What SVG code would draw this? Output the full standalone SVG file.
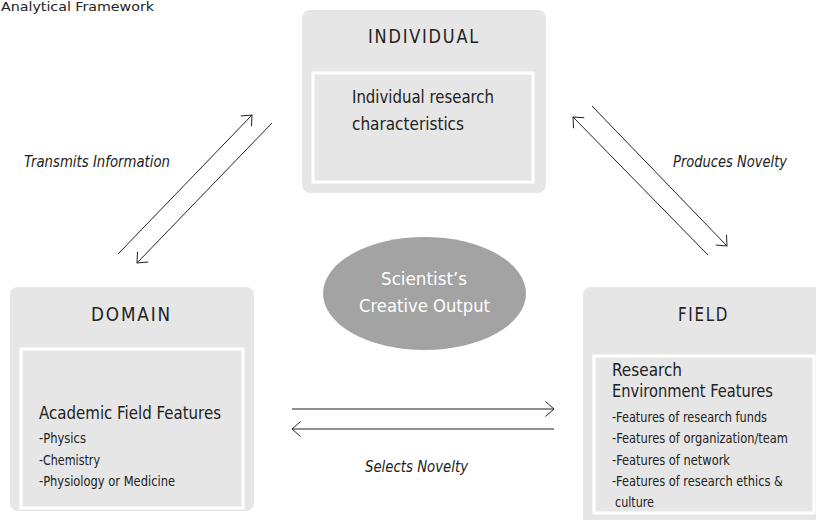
<svg xmlns="http://www.w3.org/2000/svg" width="816" height="520" viewBox="0 0 816 520">
  <style>
    text { font-family: "Liberation Sans Narrow", "DejaVu Sans Condensed", "Liberation Sans", sans-serif; fill: #222; }
    .outer { fill: #e6e6e6; }
    .inner { fill: #e6e6e6; stroke: #ffffff; stroke-width: 3; }
    .head { font-size: 20px; letter-spacing: 2px; }
    .sub { font-size: 17px; }
    .item { font-size: 14px; }
    .lbl { font-size: 16px; font-style: italic; }
    .oval { font-size: 18.5px; fill: #ffffff; }
    .conn line { stroke: #222; stroke-width: 1; marker-end: url(#arrow); }
  </style>
  <defs>
    <marker id="arrow" markerUnits="userSpaceOnUse" markerWidth="20" markerHeight="20" refX="10" refY="10" orient="auto" overflow="visible">
      <path d="M1.5,2.5 L10,10 L1.5,17.5" fill="none" stroke="#222" stroke-width="1"/>
    </marker>
  </defs>

  <rect width="816" height="520" fill="#ffffff"/>

  <text x="1" y="11" style="font-size:13px" textLength="153" lengthAdjust="spacingAndGlyphs">Analytical Framework</text>

  <!-- INDIVIDUAL -->
  <g id="individual">
    <rect class="outer" x="302" y="10" width="244" height="183" rx="8"/>
    <rect class="inner" x="313" y="73" width="220" height="109"/>
    <text class="head" x="368" y="43" textLength="112" lengthAdjust="spacingAndGlyphs">INDIVIDUAL</text>
    <text class="sub" x="352" y="103" textLength="142" lengthAdjust="spacingAndGlyphs">Individual research</text>
    <text class="sub" x="352" y="130" textLength="112" lengthAdjust="spacingAndGlyphs">characteristics</text>
  </g>

  <!-- DOMAIN -->
  <g id="domain">
    <rect class="outer" x="10" y="287" width="244" height="224" rx="8"/>
    <rect class="inner" x="21" y="349" width="222" height="159"/>
    <text class="head" x="91" y="321" textLength="81" lengthAdjust="spacingAndGlyphs">DOMAIN</text>
    <text class="sub" x="39" y="419" textLength="182" lengthAdjust="spacingAndGlyphs">Academic Field Features</text>
    <text class="item" x="39" y="443" textLength="47" lengthAdjust="spacingAndGlyphs">-Physics</text>
    <text class="item" x="39" y="465" textLength="61" lengthAdjust="spacingAndGlyphs">-Chemistry</text>
    <text class="item" x="39" y="486" textLength="136" lengthAdjust="spacingAndGlyphs">-Physiology or Medicine</text>
  </g>

  <!-- FIELD -->
  <g id="field">
    <rect class="outer" x="583" y="287" width="245" height="245" rx="8"/>
    <rect class="inner" x="594" y="356" width="220" height="157"/>
    <text class="head" x="678" y="321" textLength="51" lengthAdjust="spacingAndGlyphs">FIELD</text>
    <text class="sub" x="612" y="376" textLength="70" lengthAdjust="spacingAndGlyphs">Research</text>
    <text class="sub" x="612" y="397" textLength="161" lengthAdjust="spacingAndGlyphs">Environment Features</text>
    <text class="item" x="612" y="422" textLength="155" lengthAdjust="spacingAndGlyphs">-Features of research funds</text>
    <text class="item" x="612" y="443" textLength="176" lengthAdjust="spacingAndGlyphs">-Features of organization/team</text>
    <text class="item" x="612" y="465" textLength="118" lengthAdjust="spacingAndGlyphs">-Features of network</text>
    <text class="item" x="612" y="486" textLength="171" lengthAdjust="spacingAndGlyphs">-Features of research ethics &amp;</text>
    <text class="item" x="615" y="507" textLength="39" lengthAdjust="spacingAndGlyphs">culture</text>
  </g>

  <!-- Centre ellipse -->
  <g id="output">
    <ellipse cx="424.5" cy="293.5" rx="101.5" ry="56.5" fill="#a3a3a3"/>
    <text class="oval" x="381" y="285" textLength="86" lengthAdjust="spacingAndGlyphs">Scientist’s</text>
    <text class="oval" x="359" y="312" textLength="131" lengthAdjust="spacingAndGlyphs">Creative Output</text>
  </g>

  <!-- Connectors -->
  <g id="connectors" class="conn">
    <line x1="118" y1="254" x2="252" y2="115"/>
    <line x1="272" y1="123" x2="137" y2="263"/>
    <line x1="708" y1="255" x2="573" y2="117"/>
    <line x1="592" y1="106" x2="727" y2="246"/>
    <line x1="292" y1="409" x2="554" y2="409"/>
    <line x1="554" y1="429" x2="292" y2="429"/>
  </g>

  <!-- Connector labels -->
  <g id="labels">
    <text class="lbl" x="24" y="167" textLength="146" lengthAdjust="spacingAndGlyphs">Transmits Information</text>
    <text class="lbl" x="673" y="167" textLength="114" lengthAdjust="spacingAndGlyphs">Produces Novelty</text>
    <text class="lbl" x="365" y="472" textLength="103" lengthAdjust="spacingAndGlyphs">Selects Novelty</text>
  </g>
</svg>
